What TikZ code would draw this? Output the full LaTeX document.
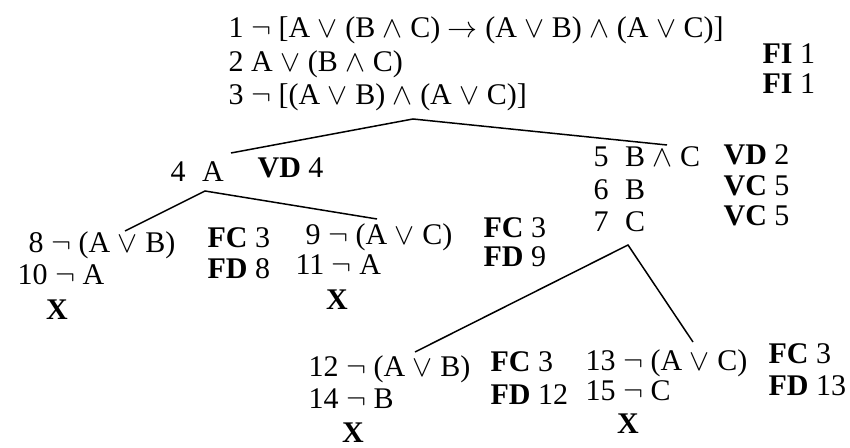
\documentclass[tikz,border=0pt]{standalone}
\usepackage{fontspec}
\setmainfont{Liberation Serif}
\newcommand{\myor}{$\vee$}
\newcommand{\myand}{$\wedge$}
\newcommand{\mynot}{$\neg$}
\newcommand{\myto}{$\rightarrow$}
\newcommand{\gap}{\hspace{0.55em}}
\begin{document}
\begin{tikzpicture}[x=0.33333pt,y=-0.33333pt,
  txt/.style={anchor=base west,inner sep=0pt,font=\fontsize{10}{12}\selectfont},
  cross/.style={anchor=base,inner sep=0pt,font=\fontsize{10}{12}\selectfont\bfseries},
  conn/.style={line width=0.5pt}]
\useasboundingbox (0,0) rectangle (850,448);
% top block
\node[txt] (l1) at (228,38) {1 \mynot{} [A \myor{} (B \myand{} C) \myto{} (A \myor{} B) \myand{} (A \myor{} C)]};
\node[txt] (l2) at (228,72) {2 A \myor{} (B \myand{} C)};
\node[txt] (l3) at (228,105) {3 \mynot{} [(A \myor{} B) \myand{} (A \myor{} C)]};
\node[txt] (r2) at (762,64) {\textbf{FI} 1};
\node[txt] (r3) at (762,94) {\textbf{FI} 1};
% second level
\node[txt] (l4) at (170,182) {4\gap A};
\node[txt] (r4) at (257,178) {\textbf{VD} 4};
\node[txt] (l5) at (593,167) {5\gap B \myand{} C};
\node[txt] (r5) at (723,165) {\textbf{VD} 2};
\node[txt] (l6) at (593,200) {6\gap B};
\node[txt] (r6) at (723,196) {\textbf{VC} 5};
\node[txt] (l7) at (593,232) {7\gap C};
\node[txt] (r7) at (723,226) {\textbf{VC} 5};
% left branches
\node[txt] (l8) at (28,253) {8 \mynot{} (A \myor{} B)};
\node[txt] (r8) at (207,248) {\textbf{FC} 3};
\node[txt] (l10) at (17,285) {10 \mynot{} A};
\node[txt] (r10) at (207,279) {\textbf{FD} 8};
\node[cross] (x1) at (57,320) {X};
\node[txt] (l9) at (305,245) {9 \mynot{} (A \myor{} C)};
\node[txt] (r9) at (483,238) {\textbf{FC} 3};
\node[txt] (l11) at (295,275) {11 \mynot{} A};
\node[txt] (r11) at (483,267) {\textbf{FD} 9};
\node[cross] (x2) at (337,310) {X};
% right branches
\node[txt] (l12) at (308,377) {12 \mynot{} (A \myor{} B)};
\node[txt] (r12) at (490,372) {\textbf{FC} 3};
\node[txt] (l14) at (308,409) {14 \mynot{} B};
\node[txt] (r14) at (490,405) {\textbf{FD} 12};
\node[cross] (x3) at (353,443) {X};
\node[txt] (l13) at (585,371) {13 \mynot{} (A \myor{} C)};
\node[txt] (r13) at (768,364) {\textbf{FC} 3};
\node[txt] (l15) at (585,401) {15 \mynot{} C};
\node[txt] (r15) at (768,396) {\textbf{FD} 13};
\node[cross] (x4) at (628,434) {X};
% connector points
\coordinate (a1) at (413,119);
\coordinate (e4) at (231,153);
\coordinate (e5) at (667,145);
\coordinate (a4) at (205,191);
\coordinate (e8) at (125,231);
\coordinate (e9) at (377,219);
\coordinate (a7) at (628,245);
\coordinate (e12) at (415,352);
\coordinate (e13) at (693,342);
\draw[conn] (e4) -- (a1) -- (e5);
\draw[conn] (e8) -- (a4) -- (e9);
\draw[conn] (e12) -- (a7) -- (e13);
\end{tikzpicture}
\end{document}
